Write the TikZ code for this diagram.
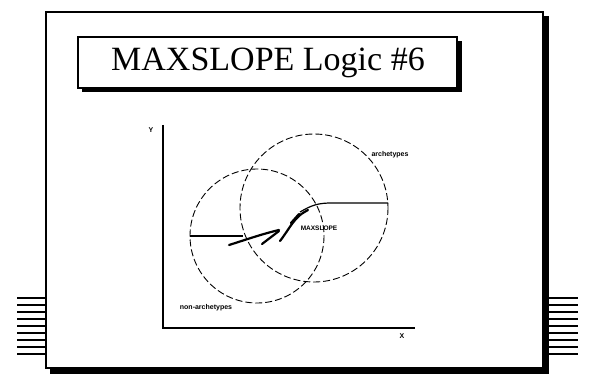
\documentclass[tikz,border=0pt]{standalone}
\usepackage{fontspec}
\setmainfont{Liberation Serif}
\newfontfamily\labfont{Liberation Sans}
\begin{document}
\begin{tikzpicture}[x=1pt,y=-1pt,
  frame/.style={line width=2pt},
  stub/.style={line width=2pt},
  dashcirc/.style={line width=0.9pt, dash pattern=on 7pt off 3pt},
  thinline/.style={line width=1.2pt},
  heavy/.style={line width=2.2pt, line cap=round},
  lab/.style={font=\labfont\bfseries\fontsize{7}{8}\selectfont, inner sep=0pt},
  smalllab/.style={font=\labfont\bfseries\fontsize{6.5}{7}\selectfont, inner sep=0pt}]
\useasboundingbox (0,0) rectangle (594,385);
% side stubs
\foreach \y in {298,305,...,354} {
  \draw[stub] (17,\y) -- (46,\y);
  \draw[stub] (548,\y) -- (578,\y);
}
% outer frame with shadow
\fill[white] (46,12) rectangle (543,368);
\draw[frame] (46,12) rectangle (543,368);
\fill (543,16) rectangle (549,374);
\fill (50,368) rectangle (549,374);
% title box with shadow
\draw[line width=1.5pt] (78,37) rectangle (457,88);
\fill (457,41) rectangle (462,92);
\fill (82,88) rectangle (462,92);
\node (title) at (268,63) {\fontsize{34}{40}\selectfont MAXSLOPE Logic \#6};
% axes
\coordinate (ytop) at (163,125);
\coordinate (origin) at (163,328);
\coordinate (xend) at (415,328);
\draw[line width=2pt] (ytop) -- (origin) -- (xend);
\node[lab] (ylab) at (151,130) {Y};
\node[lab] (xlab) at (402,336) {X};
% circles
\draw[dashcirc] (257,236) circle[radius=67];
\draw[dashcirc] (314,208) circle[radius=74];
% horizontal segments
\draw[thinline] (190,236) -- (243,236);
\draw[thinline] (300,212) .. controls (312,205) and (318,203) .. (332,203) -- (388,203);
% heavy strokes
\draw[heavy] (229,245) .. controls (245,240) and (262,234) .. (279,230);
\draw[heavy] (262,244) -- (279,231);
\draw[heavy] (280,241) .. controls (287,232) and (291,224) .. (297,218) .. controls (301,214) .. (308,210);
\draw[heavy] (291,223) -- (299,214);
% labels
\node[smalllab] (maxslope) at (319,228) {MAXSLOPE};
\node[lab] (arch) at (390,155) {archetypes};
\node[lab] (nonarch) at (206,308) {non-archetypes};
\end{tikzpicture}
\end{document}
